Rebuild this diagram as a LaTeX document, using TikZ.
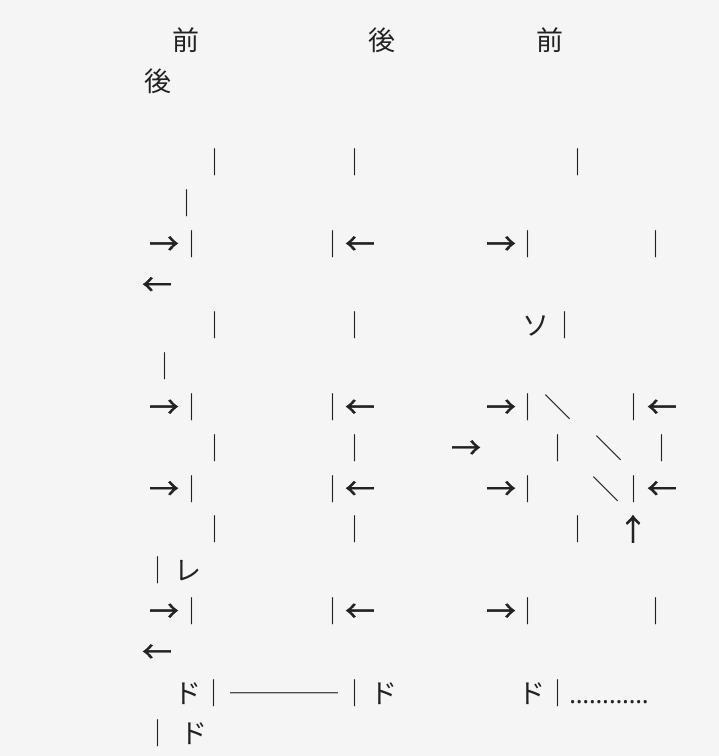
\documentclass[tikz,border=0pt]{standalone}
\usepackage{fontspec}
\newfontfamily\jp{Noto Sans CJK JP}
\newfontfamily\jparr[FakeBold=1.2]{Noto Sans CJK JP}
\newfontfamily\lat{Noto Sans}
\definecolor{bg}{HTML}{F5F5F5}
\definecolor{ink}{HTML}{222222}
\tikzset{t/.style={inner sep=0pt, outer sep=0pt, anchor=base, text=ink, font=\jp\fontsize{27}{27}\selectfont},
  ar/.style={t, font=\jparr\fontsize{30}{30}\selectfont}}
\begin{document}
\begin{tikzpicture}[x=1pt,y=-1pt]
\fill[bg] (0,0) rectangle (719,756);
\useasboundingbox (0,0) rectangle (719,756);
\foreach \x/\k/\s/\n in {
186/0/前/a1, 382/0/後/a2, 550/0/前/a3,
158/1/後/b1,
215/3/｜/c1, 355/3/｜/c2, 578/3/｜/c3,
187/4/｜/d1,
192/5/｜/e2, 333/5/｜/e3, 528/5/｜/e6, 656/5/｜/e7,
215/7/｜/g1, 355/7/｜/g2, 536/7/ソ/g3, 565/7/｜/g4,
165/8/｜/h1,
192/9/｜/i2, 333/9/｜/i3, 528/9/｜/i6, 558/9/＼/i7, 634/9/｜/i8,
215/10/｜/j1, 355/10/｜/j2, 558/10/｜/j4, 609/10/＼/j5, 662/10/｜/j6,
192/11/｜/k2, 333/11/｜/k3, 528/11/｜/k6, 606/11/＼/k7, 634/11/｜/k8,
215/12/｜/l1, 355/12/｜/l2, 578/12/｜/l3,
158/13/｜/m1, 188/13/レ/m2,
192/14/｜/n2, 333/14/｜/n3, 528/14/｜/n6, 656/14/｜/n7,
188/16/ド/p1, 214/16/｜/p2, 284/16/────/p3, 355/16/｜/p4, 384/16/ド/p5, 532/16/ド/p6, 558/16/｜/p7,
158/17/｜/q1, 194/17/ド/q2}
  \node[t] (\n) at (\x,{50.3+40.8*\k}) {\s};
\foreach \x/\k/\s/\n in {
164/5/→/e1, 360/5/←/e4, 501/5/→/e5,
157/6/←/f1,
164/9/→/i1, 360/9/←/i4, 501/9/→/i5, 662/9/←/i9,
466/10/→/j3,
164/11/→/k1, 360/11/←/k4, 501/11/→/k5, 662/11/←/k9,
633/12/↑/l4,
164/14/→/n1, 360/14/←/n4, 501/14/→/n5,
157/15/←/o1}
  \node[ar] (\n) at (\x,{50.8+40.8*\k}) {\s};
\node[t, font=\lat\fontsize{25}{25}\selectfont] (p8) at (609,{50.3+40.8*16}) {…………};
\end{tikzpicture}
\end{document}
